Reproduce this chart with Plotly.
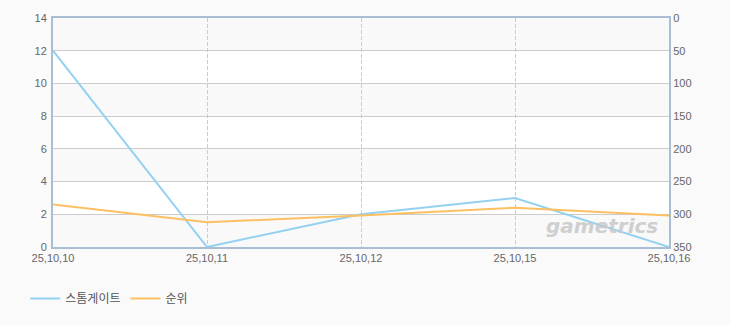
import plotly.graph_objects as go

dates = ["25,10,10", "25,10,11", "25,10,12", "25,10,15", "25,10,16"]
storm = [12, 0, 2, 3, 0]
rank = [285, 312, 302, 290, 302]
left_ticks = [0, 2, 4, 6, 8, 10, 12, 14]
right_ticks = [0, 50, 100, 150, 200, 250, 300, 350]

FONT = "Liberation Sans, Noto Sans CJK KR, sans-serif"
TICK = dict(family=FONT, size=11, color="#666666")
AXIS_LINE = "#a9bdd3"

fig = go.Figure()
fig.add_trace(go.Scatter(x=dates, y=storm, name="스톰게이트", mode="lines",
                         line=dict(color="#94d1f0", width=2)))
fig.add_trace(go.Scatter(x=dates, y=rank, name="순위", mode="lines", yaxis="y2",
                         line=dict(color="#fcc062", width=2)))

# alternating horizontal bands
for i in range(0, len(left_ticks) - 1, 2):
    fig.add_shape(type="rect", xref="paper", yref="y", x0=0, x1=1,
                  y0=left_ticks[i], y1=left_ticks[i + 1],
                  fillcolor="#f9f9f9", line_width=0, layer="below")

fig.add_annotation(text="<b><i>gametrics</i></b>", xref="paper", yref="paper",
                   x=0.985, y=0.09, xanchor="right", yanchor="middle", showarrow=False,
                   font=dict(family="DejaVu Sans, sans-serif", size=20, color="#c8c8c8"),
                   opacity=0.85)

fig.update_layout(
    width=730, height=325,
    margin=dict(l=53, r=61, t=16, b=77),
    paper_bgcolor="#fafafa", plot_bgcolor="#ffffff",
    showlegend=True,
    legend=dict(orientation="h", x=-0.045, y=-0.225, xanchor="left", yanchor="middle",
                font=dict(family=FONT, size=12, color="#555555"),
                bgcolor="rgba(0,0,0,0)", itemwidth=30, tracegroupgap=0),
    xaxis=dict(type="category", range=[0, len(dates) - 1], showgrid=True,
               gridcolor="#cccccc", griddash="4px,2px", gridwidth=1,
               showline=True, linecolor=AXIS_LINE, linewidth=2, mirror=True,
               ticks="", tickfont=TICK, zeroline=False),
    yaxis=dict(range=[0, 14], tickvals=left_ticks, showgrid=True, gridcolor="#cccccc",
               showline=True, linecolor=AXIS_LINE, linewidth=2, ticks="",
               tickfont=TICK, zeroline=False, ticklabelstandoff=2),
    yaxis2=dict(range=[350, 0], tickvals=right_ticks, overlaying="y", side="right",
                showgrid=False, showline=True, linecolor=AXIS_LINE, linewidth=2,
                ticks="", tickfont=TICK, zeroline=False),
)

fig.write_html("out.html")
